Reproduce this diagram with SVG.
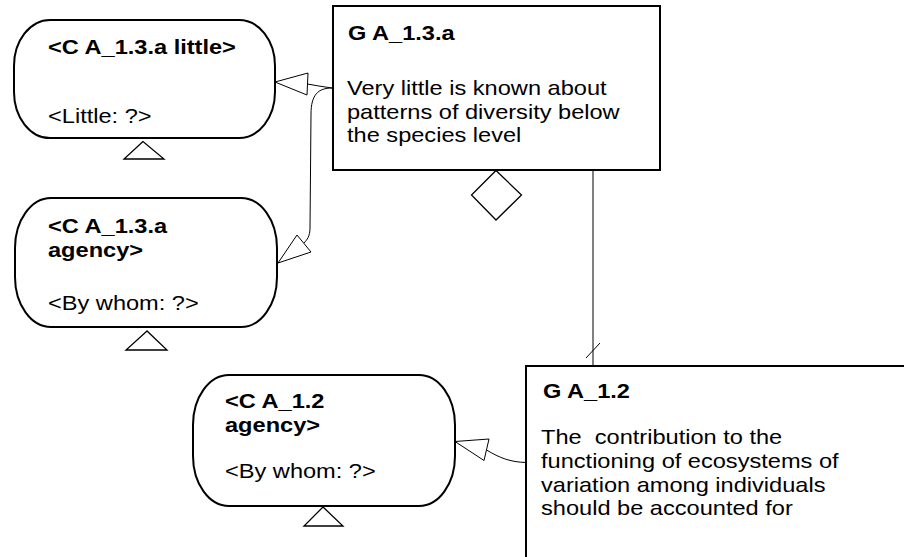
<svg xmlns="http://www.w3.org/2000/svg" width="904" height="557" viewBox="0 0 904 557">
<style>
  .node { fill: #ffffff; stroke: #000000; stroke-width: 2; }
  .box { fill: #ffffff; stroke: #000000; stroke-width: 2; }
  .mark { fill: #ffffff; stroke: #000000; stroke-width: 1.3; }
  .conn { fill: none; stroke: #000000; stroke-width: 1; }
  .ah { fill: #ffffff; stroke: #000000; stroke-width: 1; }
  text { font-family: "Liberation Sans", Arial, sans-serif; font-size: 20px; fill: #000000; }
  .b { font-weight: bold; }
</style>
<rect width="904" height="557" fill="#ffffff"/>
<g id="connectors">
  <path class="conn" d="M332,88 Q318,86 307.5,84"/>
  <polygon class="ah" points="275,82 308,73 307,95"/>
  <path class="conn" d="M332,88 C318,88 311,95 311,114 L310,228 C310,236 307,240 304,243"/>
  <polygon class="ah" points="278,263 297,235 311,252"/>
  <path class="conn" d="M526,462.5 C510,462 500,458 486.5,450"/>
  <polygon class="ah" points="455,441.5 489,439 484,460.5"/>
  <path class="conn" d="M593,170 L593,366"/>
  <path class="conn" d="M586,358 L600,343"/>
</g>
<g id="node-c-a13a-little">
  <rect class="node" x="14" y="20" width="261" height="118" rx="36" ry="46"/>
  <text class="b" transform="matrix(1.18 0 0 1 48 54)">&lt;C A_1.3.a little&gt;</text>
  <text transform="matrix(1.18 0 0 1 48 123)">&lt;Little: ?&gt;</text>
  <polygon class="mark" points="143,141.5 124,159 164,159"/>
</g>
<g id="node-c-a13a-agency">
  <rect class="node" x="15" y="198" width="262" height="129" rx="36" ry="50"/>
  <text class="b" transform="matrix(1.18 0 0 1 48 233)">&lt;C A_1.3.a</text>
  <text class="b" transform="matrix(1.18 0 0 1 48 257)">agency&gt;</text>
  <text transform="matrix(1.18 0 0 1 48 310)">&lt;By whom: ?&gt;</text>
  <polygon class="mark" points="147,331 126,350 167,350"/>
</g>
<g id="node-c-a12-agency">
  <rect class="node" x="193" y="375" width="262" height="131" rx="36" ry="50"/>
  <text class="b" transform="matrix(1.18 0 0 1 225 408)">&lt;C A_1.2</text>
  <text class="b" transform="matrix(1.18 0 0 1 225 432)">agency&gt;</text>
  <text transform="matrix(1.18 0 0 1 225 478)">&lt;By whom: ?&gt;</text>
  <polygon class="mark" points="323,507 304,526 343,526"/>
</g>
<g id="node-g-a13a">
  <rect class="box" x="333" y="6" width="327" height="164"/>
  <text class="b" transform="matrix(1.18 0 0 1 348 39.5)">G A_1.3.a</text>
  <text transform="matrix(1.18 0 0 1 347 95)">Very little is known about</text>
  <text transform="matrix(1.18 0 0 1 347 118.5)">patterns of diversity below</text>
  <text transform="matrix(1.18 0 0 1 347 142)">the species level</text>
  <polygon class="mark" points="496,170.5 521.5,195 496,220 471.5,195"/>
</g>
<g id="node-g-a12">
  <rect class="box" x="526" y="366" width="390" height="200"/>
  <text class="b" transform="matrix(1.18 0 0 1 543 398)">G A_1.2</text>
  <text transform="matrix(1.18 0 0 1 541 444)" xml:space="preserve">The  contribution to the</text>
  <text transform="matrix(1.18 0 0 1 541 468)">functioning of ecosystems of</text>
  <text transform="matrix(1.18 0 0 1 541 491.5)">variation among individuals</text>
  <text transform="matrix(1.18 0 0 1 541 515)">should be accounted for</text>
</g>
</svg>
